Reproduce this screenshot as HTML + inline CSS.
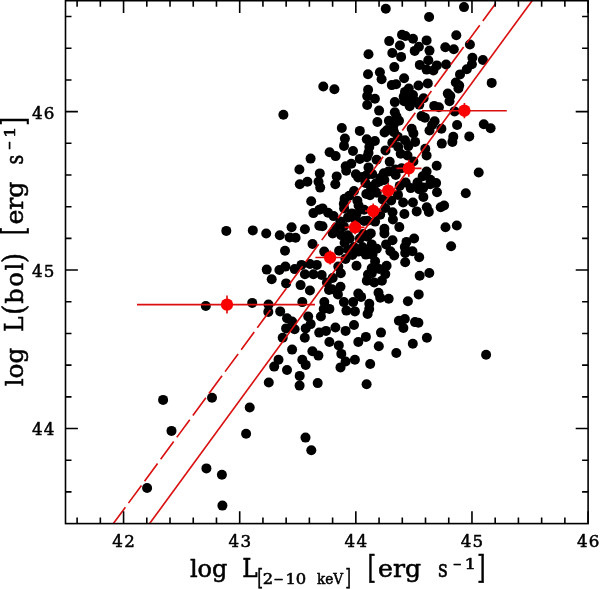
<!DOCTYPE html>
<html><head><meta charset="utf-8"><title>plot</title>
<style>html,body{margin:0;padding:0;background:#fff}body{width:600px;height:589px;overflow:hidden}svg text{font-family:"DejaVu Serif","Liberation Serif",serif}</style>
</head><body>
<svg width="600" height="589" viewBox="0 0 600 589" style="display:block">
<rect x="0" y="0" width="600" height="589" fill="#fff"/>
<g fill="#000">
<circle cx="163.1" cy="399.9" r="5.0"/>
<circle cx="212.0" cy="397.8" r="5.0"/>
<circle cx="171.5" cy="430.9" r="5.0"/>
<circle cx="249.7" cy="407.5" r="5.0"/>
<circle cx="268.8" cy="382.5" r="5.0"/>
<circle cx="246.1" cy="433.7" r="5.0"/>
<circle cx="206.4" cy="468.4" r="5.0"/>
<circle cx="221.9" cy="474.7" r="5.0"/>
<circle cx="147.1" cy="488.0" r="5.0"/>
<circle cx="222.4" cy="505.6" r="5.0"/>
<circle cx="299.6" cy="385.6" r="5.0"/>
<circle cx="317.7" cy="383.1" r="5.0"/>
<circle cx="366.6" cy="384.3" r="5.0"/>
<circle cx="305.5" cy="437.6" r="5.0"/>
<circle cx="311.3" cy="450.3" r="5.0"/>
<circle cx="205.8" cy="306.0" r="5.0"/>
<circle cx="252.2" cy="302.9" r="5.0"/>
<circle cx="268.5" cy="304.6" r="5.0"/>
<circle cx="268.3" cy="311.9" r="5.0"/>
<circle cx="271.7" cy="279.2" r="5.0"/>
<circle cx="286.1" cy="283.4" r="5.0"/>
<circle cx="300.6" cy="285.1" r="5.0"/>
<circle cx="309.9" cy="290.5" r="5.0"/>
<circle cx="326.9" cy="282.5" r="5.0"/>
<circle cx="332.0" cy="289.3" r="5.0"/>
<circle cx="340.5" cy="286.8" r="5.0"/>
<circle cx="337.9" cy="294.4" r="5.0"/>
<circle cx="366.8" cy="280.8" r="5.0"/>
<circle cx="358.3" cy="293.6" r="5.0"/>
<circle cx="302.3" cy="302.1" r="5.0"/>
<circle cx="280.2" cy="311.4" r="5.0"/>
<circle cx="324.3" cy="302.1" r="5.0"/>
<circle cx="329.4" cy="308.9" r="5.0"/>
<circle cx="320.9" cy="316.5" r="5.0"/>
<circle cx="343.9" cy="302.1" r="5.0"/>
<circle cx="353.2" cy="302.1" r="5.0"/>
<circle cx="346.4" cy="310.6" r="5.0"/>
<circle cx="354.9" cy="311.4" r="5.0"/>
<circle cx="369.3" cy="303.8" r="5.0"/>
<circle cx="367.6" cy="314.0" r="5.0"/>
<circle cx="287.0" cy="318.2" r="5.0"/>
<circle cx="292.1" cy="321.6" r="5.0"/>
<circle cx="308.2" cy="316.5" r="5.0"/>
<circle cx="310.7" cy="324.1" r="5.0"/>
<circle cx="286.1" cy="328.4" r="5.0"/>
<circle cx="294.6" cy="329.2" r="5.0"/>
<circle cx="305.7" cy="328.4" r="5.0"/>
<circle cx="282.7" cy="337.7" r="5.0"/>
<circle cx="304.8" cy="337.7" r="5.0"/>
<circle cx="319.2" cy="332.6" r="5.0"/>
<circle cx="326.0" cy="330.9" r="5.0"/>
<circle cx="335.4" cy="327.5" r="5.0"/>
<circle cx="345.6" cy="330.9" r="5.0"/>
<circle cx="354.0" cy="325.0" r="5.0"/>
<circle cx="329.4" cy="342.0" r="5.0"/>
<circle cx="338.8" cy="345.4" r="5.0"/>
<circle cx="358.3" cy="342.0" r="5.0"/>
<circle cx="365.9" cy="336.9" r="5.0"/>
<circle cx="292.1" cy="349.6" r="5.0"/>
<circle cx="312.4" cy="351.3" r="5.0"/>
<circle cx="318.4" cy="355.6" r="5.0"/>
<circle cx="341.3" cy="353.9" r="5.0"/>
<circle cx="345.6" cy="361.5" r="5.0"/>
<circle cx="354.9" cy="359.8" r="5.0"/>
<circle cx="340.5" cy="367.4" r="5.0"/>
<circle cx="278.5" cy="359.8" r="5.0"/>
<circle cx="274.2" cy="366.6" r="5.0"/>
<circle cx="302.3" cy="359.8" r="5.0"/>
<circle cx="305.7" cy="364.9" r="5.0"/>
<circle cx="287.0" cy="370.0" r="5.0"/>
<circle cx="299.7" cy="375.9" r="5.0"/>
<circle cx="370.2" cy="364.0" r="5.0"/>
<circle cx="374.2" cy="282.5" r="5.0"/>
<circle cx="381.9" cy="280.8" r="5.0"/>
<circle cx="378.5" cy="292.7" r="5.0"/>
<circle cx="380.2" cy="297.8" r="5.0"/>
<circle cx="388.7" cy="298.7" r="5.0"/>
<circle cx="418.7" cy="294.4" r="5.0"/>
<circle cx="407.9" cy="301.2" r="5.0"/>
<circle cx="398.9" cy="320.7" r="5.0"/>
<circle cx="404.8" cy="319.0" r="5.0"/>
<circle cx="403.4" cy="328.0" r="5.0"/>
<circle cx="415.0" cy="322.1" r="5.0"/>
<circle cx="418.4" cy="322.8" r="5.0"/>
<circle cx="381.0" cy="332.6" r="5.0"/>
<circle cx="378.8" cy="346.2" r="5.0"/>
<circle cx="396.3" cy="353.0" r="5.0"/>
<circle cx="412.8" cy="343.7" r="5.0"/>
<circle cx="426.9" cy="337.7" r="5.0"/>
<circle cx="486.1" cy="354.7" r="5.0"/>
<circle cx="226.3" cy="230.9" r="5.0"/>
<circle cx="252.8" cy="230.4" r="5.0"/>
<circle cx="266.2" cy="233.5" r="5.0"/>
<circle cx="279.8" cy="235.2" r="5.0"/>
<circle cx="291.6" cy="227.2" r="5.0"/>
<circle cx="304.9" cy="229.2" r="5.0"/>
<circle cx="289.6" cy="237.4" r="5.0"/>
<circle cx="295.6" cy="237.7" r="5.0"/>
<circle cx="285.0" cy="250.8" r="5.0"/>
<circle cx="299.8" cy="184.2" r="5.0"/>
<circle cx="307.4" cy="181.7" r="5.0"/>
<circle cx="318.5" cy="181.7" r="5.0"/>
<circle cx="320.2" cy="187.6" r="5.0"/>
<circle cx="311.2" cy="201.2" r="5.0"/>
<circle cx="313.4" cy="213.1" r="5.0"/>
<circle cx="319.3" cy="209.7" r="5.0"/>
<circle cx="319.3" cy="225.8" r="5.0"/>
<circle cx="312.5" cy="244.0" r="5.0"/>
<circle cx="266.7" cy="269.6" r="5.0"/>
<circle cx="279.4" cy="270.0" r="5.0"/>
<circle cx="285.4" cy="266.6" r="5.0"/>
<circle cx="294.7" cy="269.1" r="5.0"/>
<circle cx="301.5" cy="264.9" r="5.0"/>
<circle cx="310.0" cy="264.0" r="5.0"/>
<circle cx="316.8" cy="264.9" r="5.0"/>
<circle cx="304.9" cy="274.2" r="5.0"/>
<circle cx="313.4" cy="274.2" r="5.0"/>
<circle cx="335.3" cy="184.2" r="5.0"/>
<circle cx="354.0" cy="191.0" r="5.0"/>
<circle cx="344.6" cy="198.8" r="5.0"/>
<circle cx="344.1" cy="208.4" r="5.0"/>
<circle cx="357.4" cy="200.8" r="5.0"/>
<circle cx="358.6" cy="205.5" r="5.0"/>
<circle cx="366.3" cy="194.0" r="5.0"/>
<circle cx="364.1" cy="209.7" r="5.0"/>
<circle cx="356.5" cy="214.0" r="5.0"/>
<circle cx="358.2" cy="177.5" r="5.0"/>
<circle cx="322.5" cy="208.4" r="5.0"/>
<circle cx="328.1" cy="212.7" r="5.0"/>
<circle cx="333.6" cy="216.1" r="5.0"/>
<circle cx="322.5" cy="226.3" r="5.0"/>
<circle cx="340.4" cy="221.6" r="5.0"/>
<circle cx="348.0" cy="217.4" r="5.0"/>
<circle cx="336.1" cy="227.5" r="5.0"/>
<circle cx="367.5" cy="220.7" r="5.0"/>
<circle cx="355.7" cy="219.9" r="5.0"/>
<circle cx="349.3" cy="195.7" r="5.0"/>
<circle cx="343.8" cy="203.8" r="5.0"/>
<circle cx="351.8" cy="213.5" r="5.0"/>
<circle cx="343.8" cy="226.3" r="5.0"/>
<circle cx="410.7" cy="188.1" r="5.0"/>
<circle cx="419.1" cy="189.3" r="5.0"/>
<circle cx="417.5" cy="182.5" r="5.0"/>
<circle cx="403.1" cy="202.5" r="5.0"/>
<circle cx="412.9" cy="202.5" r="5.0"/>
<circle cx="404.4" cy="214.0" r="5.0"/>
<circle cx="416.7" cy="211.4" r="5.0"/>
<circle cx="392.5" cy="212.3" r="5.0"/>
<circle cx="392.9" cy="219.5" r="5.0"/>
<circle cx="399.3" cy="227.1" r="5.0"/>
<circle cx="384.4" cy="228.8" r="5.0"/>
<circle cx="375.1" cy="221.6" r="5.0"/>
<circle cx="375.9" cy="183.4" r="5.0"/>
<circle cx="384.4" cy="180.0" r="5.0"/>
<circle cx="376.8" cy="192.7" r="5.0"/>
<circle cx="382.7" cy="199.5" r="5.0"/>
<circle cx="391.2" cy="200.4" r="5.0"/>
<circle cx="398.0" cy="194.9" r="5.0"/>
<circle cx="399.7" cy="185.9" r="5.0"/>
<circle cx="405.7" cy="182.5" r="5.0"/>
<circle cx="385.3" cy="208.0" r="5.0"/>
<circle cx="380.2" cy="214.8" r="5.0"/>
<circle cx="370.8" cy="186.8" r="5.0"/>
<circle cx="370.0" cy="195.3" r="5.0"/>
<circle cx="324.2" cy="251.6" r="5.0"/>
<circle cx="339.1" cy="250.8" r="5.0"/>
<circle cx="344.6" cy="242.7" r="5.0"/>
<circle cx="349.7" cy="238.5" r="5.0"/>
<circle cx="341.2" cy="235.1" r="5.0"/>
<circle cx="332.7" cy="233.4" r="5.0"/>
<circle cx="359.9" cy="238.5" r="5.0"/>
<circle cx="367.5" cy="236.8" r="5.0"/>
<circle cx="354.0" cy="247.0" r="5.0"/>
<circle cx="362.4" cy="247.0" r="5.0"/>
<circle cx="368.4" cy="251.2" r="5.0"/>
<circle cx="345.5" cy="258.9" r="5.0"/>
<circle cx="352.3" cy="255.0" r="5.0"/>
<circle cx="358.2" cy="251.6" r="5.0"/>
<circle cx="365.8" cy="254.6" r="5.0"/>
<circle cx="356.5" cy="265.7" r="5.0"/>
<circle cx="338.3" cy="266.5" r="5.0"/>
<circle cx="340.8" cy="273.3" r="5.0"/>
<circle cx="332.7" cy="278.0" r="5.0"/>
<circle cx="321.7" cy="275.0" r="5.0"/>
<circle cx="368.0" cy="274.6" r="5.0"/>
<circle cx="348.0" cy="249.5" r="5.0"/>
<circle cx="384.4" cy="233.4" r="5.0"/>
<circle cx="392.5" cy="240.2" r="5.0"/>
<circle cx="386.1" cy="244.4" r="5.0"/>
<circle cx="390.4" cy="251.2" r="5.0"/>
<circle cx="394.2" cy="255.5" r="5.0"/>
<circle cx="414.1" cy="238.5" r="5.0"/>
<circle cx="406.5" cy="241.9" r="5.0"/>
<circle cx="404.8" cy="247.0" r="5.0"/>
<circle cx="412.4" cy="251.2" r="5.0"/>
<circle cx="405.2" cy="252.9" r="5.0"/>
<circle cx="405.2" cy="262.3" r="5.0"/>
<circle cx="419.2" cy="257.2" r="5.0"/>
<circle cx="419.7" cy="275.8" r="5.0"/>
<circle cx="370.8" cy="233.4" r="5.0"/>
<circle cx="371.7" cy="244.4" r="5.0"/>
<circle cx="376.8" cy="248.7" r="5.0"/>
<circle cx="372.5" cy="254.6" r="5.0"/>
<circle cx="375.1" cy="261.4" r="5.0"/>
<circle cx="371.7" cy="268.2" r="5.0"/>
<circle cx="386.6" cy="265.7" r="5.0"/>
<circle cx="385.3" cy="274.1" r="5.0"/>
<circle cx="379.3" cy="269.0" r="5.0"/>
<circle cx="465.8" cy="193.2" r="5.0"/>
<circle cx="437.0" cy="192.2" r="5.0"/>
<circle cx="440.7" cy="207.2" r="5.0"/>
<circle cx="444.1" cy="205.5" r="5.0"/>
<circle cx="426.8" cy="207.2" r="5.0"/>
<circle cx="428.8" cy="211.9" r="5.0"/>
<circle cx="423.4" cy="197.0" r="5.0"/>
<circle cx="445.5" cy="227.2" r="5.0"/>
<circle cx="456.8" cy="225.5" r="5.0"/>
<circle cx="451.1" cy="246.2" r="5.0"/>
<circle cx="429.3" cy="273.0" r="5.0"/>
<circle cx="436.1" cy="183.1" r="5.0"/>
<circle cx="430.2" cy="184.2" r="5.0"/>
<circle cx="423.4" cy="187.6" r="5.0"/>
<circle cx="323.3" cy="86.5" r="5.0"/>
<circle cx="334.4" cy="89.3" r="5.0"/>
<circle cx="283.4" cy="114.8" r="5.0"/>
<circle cx="341.8" cy="128.0" r="5.0"/>
<circle cx="344.9" cy="138.6" r="5.0"/>
<circle cx="344.0" cy="145.9" r="5.0"/>
<circle cx="353.0" cy="151.0" r="5.0"/>
<circle cx="329.6" cy="152.2" r="5.0"/>
<circle cx="335.6" cy="156.1" r="5.0"/>
<circle cx="310.6" cy="158.6" r="5.0"/>
<circle cx="299.4" cy="169.5" r="5.0"/>
<circle cx="319.8" cy="173.4" r="5.0"/>
<circle cx="336.7" cy="176.4" r="5.0"/>
<circle cx="345.7" cy="166.2" r="5.0"/>
<circle cx="351.3" cy="163.7" r="5.0"/>
<circle cx="346.2" cy="170.8" r="5.0"/>
<circle cx="355.9" cy="174.2" r="5.0"/>
<circle cx="359.8" cy="158.9" r="5.0"/>
<circle cx="359.8" cy="130.9" r="5.0"/>
<circle cx="381.6" cy="79.2" r="5.0"/>
<circle cx="391.8" cy="85.1" r="5.0"/>
<circle cx="396.1" cy="84.2" r="5.0"/>
<circle cx="404.1" cy="78.3" r="5.0"/>
<circle cx="368.1" cy="89.8" r="5.0"/>
<circle cx="367.2" cy="96.1" r="5.0"/>
<circle cx="374.9" cy="98.7" r="5.0"/>
<circle cx="367.2" cy="105.0" r="5.0"/>
<circle cx="394.8" cy="102.1" r="5.0"/>
<circle cx="405.0" cy="91.9" r="5.0"/>
<circle cx="407.5" cy="97.0" r="5.0"/>
<circle cx="404.1" cy="101.2" r="5.0"/>
<circle cx="409.7" cy="106.3" r="5.0"/>
<circle cx="408.8" cy="88.5" r="5.0"/>
<circle cx="379.1" cy="110.6" r="5.0"/>
<circle cx="394.8" cy="112.3" r="5.0"/>
<circle cx="396.5" cy="116.5" r="5.0"/>
<circle cx="377.4" cy="122.0" r="5.0"/>
<circle cx="388.9" cy="120.7" r="5.0"/>
<circle cx="399.0" cy="120.7" r="5.0"/>
<circle cx="394.0" cy="124.1" r="5.0"/>
<circle cx="387.2" cy="130.1" r="5.0"/>
<circle cx="393.1" cy="128.8" r="5.0"/>
<circle cx="418.5" cy="85.5" r="5.0"/>
<circle cx="427.8" cy="83.4" r="5.0"/>
<circle cx="412.5" cy="98.7" r="5.0"/>
<circle cx="416.8" cy="102.1" r="5.0"/>
<circle cx="423.6" cy="98.3" r="5.0"/>
<circle cx="419.3" cy="104.6" r="5.0"/>
<circle cx="455.8" cy="82.5" r="5.0"/>
<circle cx="458.4" cy="88.5" r="5.0"/>
<circle cx="447.8" cy="93.6" r="5.0"/>
<circle cx="450.3" cy="96.1" r="5.0"/>
<circle cx="449.5" cy="101.2" r="5.0"/>
<circle cx="434.2" cy="105.9" r="5.0"/>
<circle cx="438.9" cy="107.2" r="5.0"/>
<circle cx="454.6" cy="111.4" r="5.0"/>
<circle cx="421.5" cy="116.1" r="5.0"/>
<circle cx="424.9" cy="117.8" r="5.0"/>
<circle cx="434.6" cy="121.2" r="5.0"/>
<circle cx="432.1" cy="125.0" r="5.0"/>
<circle cx="457.1" cy="125.0" r="5.0"/>
<circle cx="441.4" cy="128.8" r="5.0"/>
<circle cx="411.7" cy="128.8" r="5.0"/>
<circle cx="429.5" cy="130.5" r="5.0"/>
<circle cx="366.8" cy="139.3" r="5.0"/>
<circle cx="374.9" cy="141.0" r="5.0"/>
<circle cx="369.3" cy="147.0" r="5.0"/>
<circle cx="368.5" cy="152.9" r="5.0"/>
<circle cx="366.8" cy="157.2" r="5.0"/>
<circle cx="384.6" cy="132.5" r="5.0"/>
<circle cx="394.0" cy="132.1" r="5.0"/>
<circle cx="392.3" cy="142.7" r="5.0"/>
<circle cx="385.5" cy="150.4" r="5.0"/>
<circle cx="398.2" cy="147.0" r="5.0"/>
<circle cx="405.0" cy="140.2" r="5.0"/>
<circle cx="408.4" cy="146.1" r="5.0"/>
<circle cx="400.7" cy="153.8" r="5.0"/>
<circle cx="407.5" cy="155.5" r="5.0"/>
<circle cx="376.6" cy="159.7" r="5.0"/>
<circle cx="389.7" cy="161.8" r="5.0"/>
<circle cx="368.5" cy="167.4" r="5.0"/>
<circle cx="362.5" cy="177.1" r="5.0"/>
<circle cx="366.8" cy="175.0" r="5.0"/>
<circle cx="383.8" cy="173.3" r="5.0"/>
<circle cx="388.4" cy="171.6" r="5.0"/>
<circle cx="380.4" cy="178.0" r="5.0"/>
<circle cx="395.7" cy="175.0" r="5.0"/>
<circle cx="401.6" cy="168.2" r="5.0"/>
<circle cx="413.4" cy="133.4" r="5.0"/>
<circle cx="415.1" cy="141.9" r="5.0"/>
<circle cx="453.3" cy="136.8" r="5.0"/>
<circle cx="452.4" cy="141.9" r="5.0"/>
<circle cx="441.8" cy="143.6" r="5.0"/>
<circle cx="425.3" cy="148.7" r="5.0"/>
<circle cx="426.6" cy="155.5" r="5.0"/>
<circle cx="436.7" cy="165.7" r="5.0"/>
<circle cx="413.4" cy="161.4" r="5.0"/>
<circle cx="426.6" cy="171.6" r="5.0"/>
<circle cx="422.7" cy="176.3" r="5.0"/>
<circle cx="430.4" cy="179.7" r="5.0"/>
<circle cx="491.7" cy="82.9" r="5.0"/>
<circle cx="483.8" cy="124.2" r="5.0"/>
<circle cx="490.6" cy="128.3" r="5.0"/>
<circle cx="469.3" cy="136.4" r="5.0"/>
<circle cx="466.8" cy="69.3" r="5.0"/>
<circle cx="471.9" cy="64.2" r="5.0"/>
<circle cx="482.9" cy="60.0" r="5.0"/>
<circle cx="460.0" cy="74.4" r="5.0"/>
<circle cx="459.2" cy="85.5" r="5.0"/>
<circle cx="385.8" cy="8.8" r="5.0"/>
<circle cx="429.1" cy="17.0" r="5.0"/>
<circle cx="402.0" cy="34.8" r="5.0"/>
<circle cx="405.4" cy="36.0" r="5.0"/>
<circle cx="413.0" cy="38.7" r="5.0"/>
<circle cx="426.6" cy="40.4" r="5.0"/>
<circle cx="389.2" cy="41.1" r="5.0"/>
<circle cx="399.9" cy="45.5" r="5.0"/>
<circle cx="418.9" cy="46.7" r="5.0"/>
<circle cx="414.7" cy="50.9" r="5.0"/>
<circle cx="429.5" cy="50.6" r="5.0"/>
<circle cx="368.5" cy="54.3" r="5.0"/>
<circle cx="392.3" cy="53.0" r="5.0"/>
<circle cx="401.1" cy="56.9" r="5.0"/>
<circle cx="394.3" cy="67.1" r="5.0"/>
<circle cx="419.8" cy="64.9" r="5.0"/>
<circle cx="428.3" cy="60.3" r="5.0"/>
<circle cx="426.6" cy="69.6" r="5.0"/>
<circle cx="433.4" cy="70.5" r="5.0"/>
<circle cx="436.8" cy="65.4" r="5.0"/>
<circle cx="368.0" cy="74.2" r="5.0"/>
<circle cx="379.9" cy="72.2" r="5.0"/>
<circle cx="403.7" cy="96.8" r="5.0"/>
<circle cx="413.0" cy="95.1" r="5.0"/>
<circle cx="464.0" cy="7.1" r="5.0"/>
<circle cx="456.3" cy="35.3" r="5.0"/>
<circle cx="469.9" cy="44.5" r="5.0"/>
<circle cx="445.3" cy="47.2" r="5.0"/>
<circle cx="453.8" cy="49.2" r="5.0"/>
<circle cx="472.4" cy="57.7" r="5.0"/>
<circle cx="446.1" cy="64.5" r="5.0"/>
<circle cx="478.7" cy="172.5" r="5.0"/>
<circle cx="361.1" cy="296.9" r="5.0"/>
<circle cx="369.2" cy="309.1" r="5.0"/>
<circle cx="371.9" cy="273.1" r="5.0"/>
<circle cx="365.4" cy="182.9" r="5.0"/>
<circle cx="379.7" cy="181.5" r="5.0"/>
<circle cx="364.1" cy="220.9" r="5.0"/>
<circle cx="372.2" cy="174.1" r="5.0"/>
<circle cx="347.8" cy="235.2" r="5.0"/>
<circle cx="363.3" cy="234.0" r="5.0"/>
<circle cx="397.8" cy="136.7" r="5.0"/>
<circle cx="395.4" cy="169.4" r="5.0"/>
<circle cx="323.7" cy="309.0" r="5.0"/>
<circle cx="329.0" cy="290.0" r="5.0"/>
</g>
<g stroke="#da1010" stroke-width="1.65" fill="none">
<line x1="149.62" y1="523.6" x2="532.14" y2="0.7"/>
<line x1="113.39" y1="523.6" x2="497.73" y2="0.7" stroke-dasharray="22 5.2" stroke-dashoffset="1.8"/>
<path d="M137 304.6H315M227 295.6V313.6"/>
<path d="M315.4 257.5H344M330.1 250.5V264.5"/>
<path d="M344.6 227.3H364.5M355.1 220.3V234.3"/>
<path d="M365 211.0H381.5M373.2 203.5V218.5"/>
<path d="M380 190.6H396.5M388.2 183.1V198.1"/>
<path d="M396.5 168.3H421.5M408.8 159.8V176.8"/>
<path d="M422 110.7H506.8M464.4 103.10000000000001V118.3"/>
</g>
<g fill="#fb0000">
<circle cx="227" cy="304.6" r="6.2"/>
<circle cx="330.1" cy="257.5" r="6.2"/>
<circle cx="355.1" cy="227.3" r="6.2"/>
<circle cx="373.2" cy="211.0" r="6.2"/>
<circle cx="388.2" cy="190.6" r="6.2"/>
<circle cx="408.8" cy="168.3" r="6.2"/>
<circle cx="464.4" cy="110.7" r="6.2"/>
</g>
<g stroke="#000" stroke-width="1.6" fill="none" stroke-linecap="butt">
<rect x="65.5" y="0.7" width="522.6" height="522.9"/>
<path d="M77.11 523.6v-6.0M77.11 0.7v6.0M100.34 523.6v-6.0M100.34 0.7v6.0M123.57 523.6v-12.4M123.57 0.7v12.4M146.79 523.6v-6.0M146.79 0.7v6.0M170.02 523.6v-6.0M170.02 0.7v6.0M193.25 523.6v-6.0M193.25 0.7v6.0M216.47 523.6v-6.0M216.47 0.7v6.0M239.70 523.6v-12.4M239.70 0.7v12.4M262.93 523.6v-6.0M262.93 0.7v6.0M286.15 523.6v-6.0M286.15 0.7v6.0M309.38 523.6v-6.0M309.38 0.7v6.0M332.61 523.6v-6.0M332.61 0.7v6.0M355.83 523.6v-12.4M355.83 0.7v12.4M379.06 523.6v-6.0M379.06 0.7v6.0M402.29 523.6v-6.0M402.29 0.7v6.0M425.51 523.6v-6.0M425.51 0.7v6.0M448.74 523.6v-6.0M448.74 0.7v6.0M471.97 523.6v-12.4M471.97 0.7v12.4M495.19 523.6v-6.0M495.19 0.7v6.0M518.42 523.6v-6.0M518.42 0.7v6.0M541.65 523.6v-6.0M541.65 0.7v6.0M564.87 523.6v-6.0M564.87 0.7v6.0M588.10 523.6v-12.4M588.10 0.7v12.4M65.5 491.91h6.0M588.1 491.91h-6.0M65.5 460.22h6.0M588.1 460.22h-6.0M65.5 428.53h12.4M588.1 428.53h-12.4M65.5 396.84h6.0M588.1 396.84h-6.0M65.5 365.15h6.0M588.1 365.15h-6.0M65.5 333.45h6.0M588.1 333.45h-6.0M65.5 301.76h6.0M588.1 301.76h-6.0M65.5 270.07h12.4M588.1 270.07h-12.4M65.5 238.38h6.0M588.1 238.38h-6.0M65.5 206.69h6.0M588.1 206.69h-6.0M65.5 175.00h6.0M588.1 175.00h-6.0M65.5 143.31h6.0M588.1 143.31h-6.0M65.5 111.62h12.4M588.1 111.62h-12.4M65.5 79.93h6.0M588.1 79.93h-6.0M65.5 48.24h6.0M588.1 48.24h-6.0M65.5 16.55h6.0M588.1 16.55h-6.0"/>
</g>
<g font-size="16.7" fill="#000" stroke="#000" stroke-width="0.52" stroke-linejoin="round" text-anchor="middle" letter-spacing="1.3">
<text x="124.2" y="546.9">42</text>
<text x="240.4" y="546.9">43</text>
<text x="356.5" y="546.9">44</text>
<text x="472.6" y="546.9">45</text>
<text x="588.8" y="546.9">46</text>
</g>
<g font-size="16.7" fill="#000" stroke="#000" stroke-width="0.52" stroke-linejoin="round" text-anchor="end" letter-spacing="1.3">
<text x="55.8" y="435.4">44</text>
<text x="55.8" y="277.0">45</text>
<text x="55.8" y="118.5">46</text>
</g>
<g fill="#000" stroke="#000" stroke-width="0.55" stroke-linejoin="round">
<text x="189.9" y="576.9" font-size="24.3" textLength="37.6" lengthAdjust="spacingAndGlyphs">log</text>
<text x="242.2" y="576.9" font-size="26.2" textLength="15.4" lengthAdjust="spacingAndGlyphs">L</text>
<text x="257.2" y="585.0" font-size="22" stroke="#000" stroke-width="0.52" stroke-linejoin="round" textLength="5.8" lengthAdjust="spacingAndGlyphs">[</text>
<text x="262.8" y="583.8" font-size="14.2" stroke="#000" stroke-width="0.52" stroke-linejoin="round" textLength="10.4" lengthAdjust="spacingAndGlyphs">2</text>
<text x="273.6" y="583.8" font-size="14.2" stroke="#000" stroke-width="0.52" stroke-linejoin="round" textLength="10.6" lengthAdjust="spacingAndGlyphs">−</text>
<text x="285.4" y="583.8" font-size="14.2" stroke="#000" stroke-width="0.52" stroke-linejoin="round" textLength="20.8" lengthAdjust="spacingAndGlyphs">10</text>
<text x="317" y="583.8" font-size="14.2" stroke="#000" stroke-width="0.52" stroke-linejoin="round" textLength="26.2" lengthAdjust="spacingAndGlyphs">keV</text>
<text x="345.2" y="585.0" font-size="22" stroke="#000" stroke-width="0.52" stroke-linejoin="round" textLength="5.8" lengthAdjust="spacingAndGlyphs">]</text>
<text x="367.4" y="577.9" font-size="31" stroke="#000" stroke-width="0.52" stroke-linejoin="round" textLength="8.6" lengthAdjust="spacingAndGlyphs">[</text>
<text x="378.0" y="576.9" font-size="24.3" textLength="43" lengthAdjust="spacingAndGlyphs">erg</text>
<text x="438.0" y="576.9" font-size="24.3" textLength="9.8" lengthAdjust="spacingAndGlyphs">s</text>
<text x="452.7" y="568.5" font-size="14.2" stroke="#000" stroke-width="0.52" stroke-linejoin="round" textLength="9.4" lengthAdjust="spacingAndGlyphs">−</text>
<text x="464.6" y="568.9" font-size="14.2" stroke="#000" stroke-width="0.52" stroke-linejoin="round" textLength="11.6" lengthAdjust="spacingAndGlyphs">1</text>
<text x="476.9" y="577.9" font-size="31" stroke="#000" stroke-width="0.52" stroke-linejoin="round" textLength="8.6" lengthAdjust="spacingAndGlyphs">]</text>
</g>
<g fill="#000" stroke="#000" stroke-width="0.55" stroke-linejoin="round" transform="translate(22.6,386.3) rotate(-90)">
<text x="0" y="0" font-size="24.3" textLength="38.6" lengthAdjust="spacingAndGlyphs">log</text>
<text x="54.6" y="0" font-size="26.2" textLength="15.4" lengthAdjust="spacingAndGlyphs">L</text>
<text x="71.5" y="1" font-size="29" stroke="#000" stroke-width="0.52" stroke-linejoin="round" textLength="10" lengthAdjust="spacingAndGlyphs">(</text>
<text x="82.6" y="0" font-size="24.3" textLength="41" lengthAdjust="spacing">bol</text>
<text x="123.4" y="1" font-size="29" stroke="#000" stroke-width="0.52" stroke-linejoin="round" textLength="10" lengthAdjust="spacingAndGlyphs">)</text>
<text x="151.1" y="1" font-size="31" stroke="#000" stroke-width="0.52" stroke-linejoin="round" textLength="8.6" lengthAdjust="spacingAndGlyphs">[</text>
<text x="161.70000000000002" y="0" font-size="24.3" textLength="43" lengthAdjust="spacingAndGlyphs">erg</text>
<text x="221.7" y="0" font-size="24.3" textLength="9.8" lengthAdjust="spacingAndGlyphs">s</text>
<text x="236.4" y="-8.4" font-size="14.2" stroke="#000" stroke-width="0.52" stroke-linejoin="round" textLength="9.4" lengthAdjust="spacingAndGlyphs">−</text>
<text x="248.3" y="-8.0" font-size="14.2" stroke="#000" stroke-width="0.52" stroke-linejoin="round" textLength="11.6" lengthAdjust="spacingAndGlyphs">1</text>
<text x="260.6" y="1" font-size="31" stroke="#000" stroke-width="0.52" stroke-linejoin="round" textLength="8.6" lengthAdjust="spacingAndGlyphs">]</text>
</g>
</svg>
</body></html>
